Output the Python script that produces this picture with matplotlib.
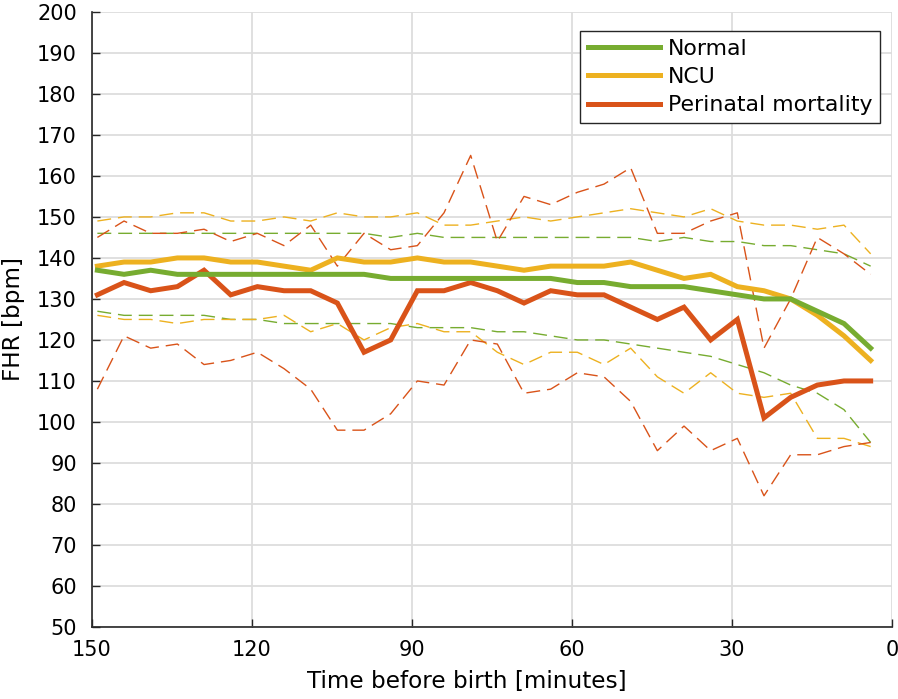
import matplotlib.pyplot as plt
from matplotlib.lines import Line2D

# time before birth (minutes), one point per 5-minute window
time_min = [149, 144, 139, 134, 129, 124, 119, 114, 109, 104,
            99, 94, 89, 84, 79, 74, 69, 64, 59, 54,
            49, 44, 39, 34, 29, 24, 19, 14, 9, 4]

normal_mean = [137, 136, 137, 136, 136, 136, 136, 136, 136, 136,
               136, 135, 135, 135, 135, 135, 135, 135, 134, 134,
               133, 133, 133, 132, 131, 130, 130, 127, 124, 118]
normal_hi = [146, 146, 146, 146, 146, 146, 146, 146, 146, 146,
             146, 145, 146, 145, 145, 145, 145, 145, 145, 145,
             145, 144, 145, 144, 144, 143, 143, 142, 141, 138]
normal_lo = [127, 126, 126, 126, 126, 125, 125, 124, 124, 124,
             124, 124, 123, 123, 123, 122, 122, 121, 120, 120,
             119, 118, 117, 116, 114, 112, 109, 107, 103, 95]

ncu_mean = [138, 139, 139, 140, 140, 139, 139, 138, 137, 140,
            139, 139, 140, 139, 139, 138, 137, 138, 138, 138,
            139, 137, 135, 136, 133, 132, 130, 126, 121, 115]
ncu_hi = [149, 150, 150, 151, 151, 149, 149, 150, 149, 151,
          150, 150, 151, 148, 148, 149, 150, 149, 150, 151,
          152, 151, 150, 152, 149, 148, 148, 147, 148, 141]
ncu_lo = [126, 125, 125, 124, 125, 125, 125, 126, 122, 124,
          120, 123, 124, 122, 122, 117, 114, 117, 117, 114,
          118, 111, 107, 112, 107, 106, 107, 96, 96, 94]

mort_mean = [131, 134, 132, 133, 137, 131, 133, 132, 132, 129,
             117, 120, 132, 132, 134, 132, 129, 132, 131, 131,
             128, 125, 128, 120, 125, 101, 106, 109, 110, 110]
mort_hi = [145, 149, 146, 146, 147, 144, 146, 143, 148, 138,
           146, 142, 143, 151, 165, 144, 155, 153, 156, 158,
           162, 146, 146, 149, 151, 118, 130, 145, 141, 136]
mort_lo = [108, 121, 118, 119, 114, 115, 117, 113, 108, 98,
           98, 102, 110, 109, 120, 119, 107, 108, 112, 111,
           105, 93, 99, 93, 96, 82, 92, 92, 94, 95]

groups = ['Normal', 'NCU', 'Perinatal mortality']
colors = ['#77AC30', '#EDB120', '#D95319']

fig = plt.figure(figsize=(8.98, 6.99), dpi=100)
ax = fig.add_axes([0.1025, 0.103, 0.8908, 0.880])

# dashed bands first, thick means on top
for hi, lo, c in [(normal_hi, normal_lo, colors[0]),
                  (ncu_hi, ncu_lo, colors[1]),
                  (mort_hi, mort_lo, colors[2])]:
    ax.plot(time_min, hi, color=c, lw=1.0, dashes=(10, 5))
    ax.plot(time_min, lo, color=c, lw=1.0, dashes=(10, 5))

ax.plot(time_min, mort_mean, color=colors[2], lw=3.6, solid_joinstyle='miter')
ax.plot(time_min, ncu_mean, color=colors[1], lw=3.6, solid_joinstyle='miter')
ax.plot(time_min, normal_mean, color=colors[0], lw=3.6, solid_joinstyle='miter')

ax.set_xlim(150, 0)
ax.set_ylim(50, 200)
ax.set_xticks([150, 120, 90, 60, 30, 0])
ax.set_yticks(range(50, 201, 10))
ax.grid(True, color='#dddddd', lw=1.3)
ax.set_axisbelow(True)
ax.tick_params(direction='in', length=6, width=1, labelsize=15, colors='#262626',
               labelcolor='black')
ax.tick_params(axis='y', pad=11)
ax.tick_params(axis='x', pad=9)
for s in ['top', 'right']:
    ax.spines[s].set_visible(False)
for s in ['left', 'bottom']:
    ax.spines[s].set_color('#262626')
    ax.spines[s].set_linewidth(1.2)

ax.set_xlabel('Time before birth [minutes]', fontsize=16.7)
ax.xaxis.set_label_coords(0.469, -0.070)
ax.set_ylabel('FHR [bpm]', fontsize=16.7)
ax.yaxis.set_label_coords(-0.084, 0.5)

handles = [Line2D([], [], color=c, lw=3.6) for c in colors]
leg = ax.legend(handles, groups, loc='upper right', fontsize=15.8, frameon=True,
                fancybox=False, framealpha=1, edgecolor='#262626',
                handlelength=3.3, handletextpad=0.35, borderpad=0.35,
                labelspacing=0.38, borderaxespad=0,
                bbox_to_anchor=(0.985, 0.969))
leg.get_frame().set_linewidth(1.0)

fig.savefig('out.png', dpi=100)
